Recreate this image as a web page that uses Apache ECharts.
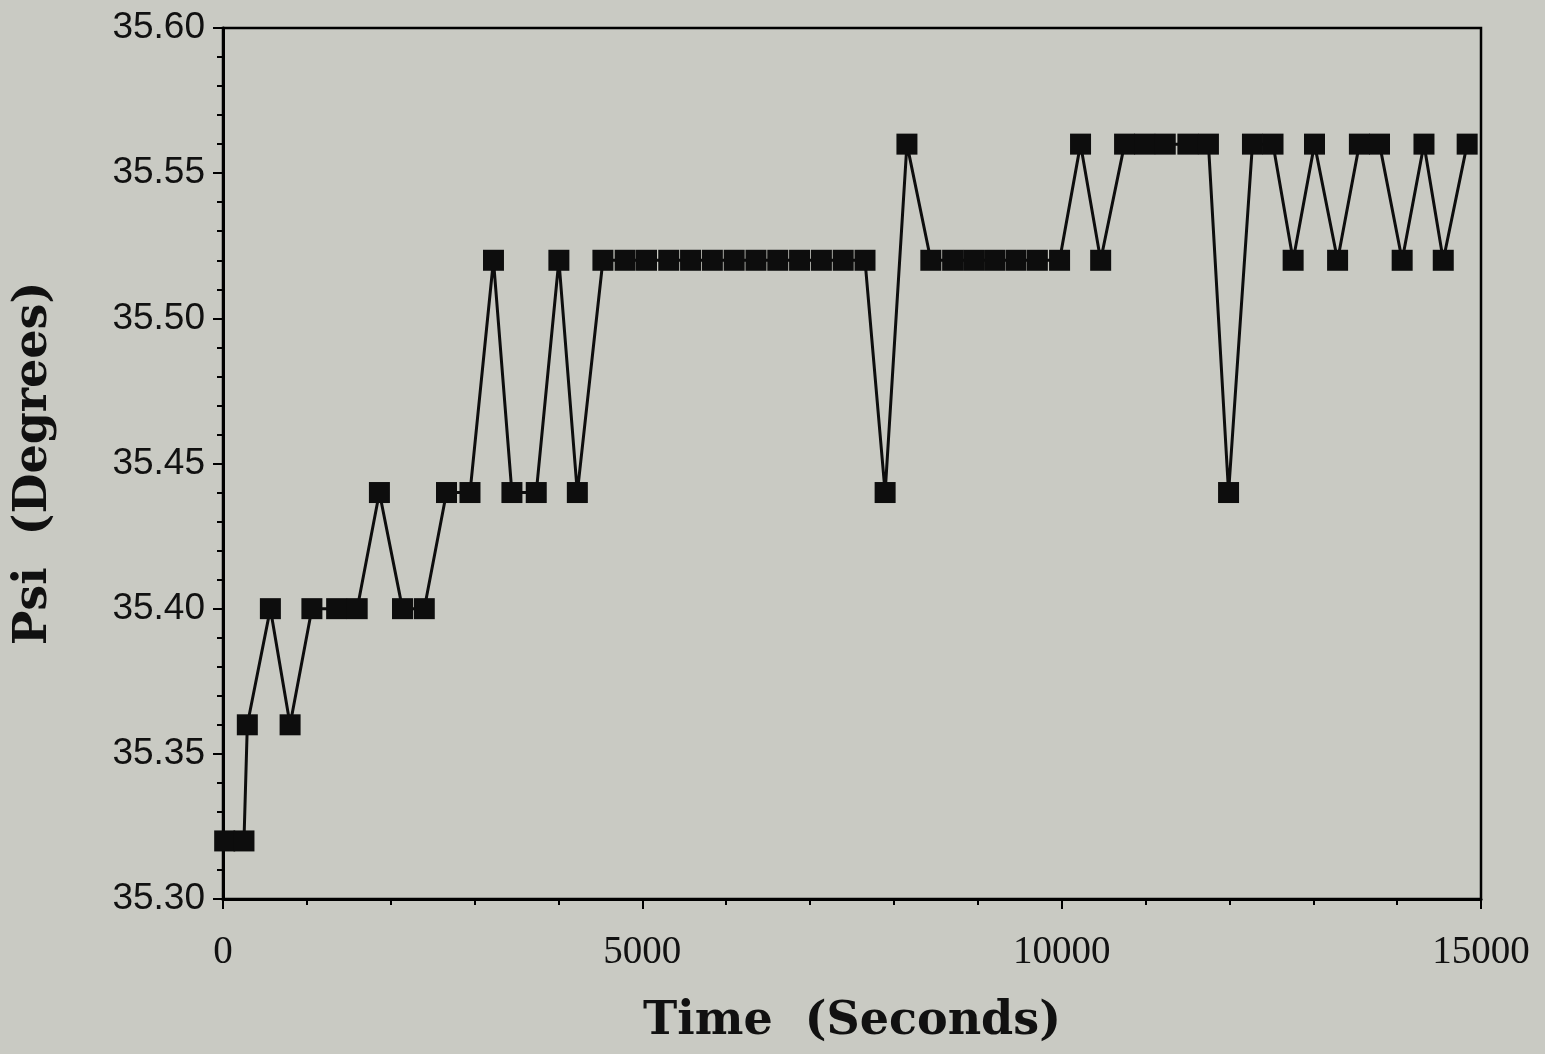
<!DOCTYPE html>
<html>
<head>
<meta charset="utf-8">
<script src="https://cdn.jsdelivr.net/npm/echarts@6/dist/echarts.min.js"></script>
<style>
html,body{margin:0;padding:0;background:#c9cac3;}
#chart{width:1545px;height:1054px;}
</style>
</head>
<body>
<div id="chart"></div>
<script>
// Time (seconds) of each sample
const times = [
  20, 250, 290, 565, 800, 1060, 1355, 1600, 1865, 2140, 2400, 2665, 2945,
  3225, 3445, 3735, 4005, 4225,
  4530, 4795, 5050, 5315, 5575, 5835, 6095, 6355, 6615, 6875, 7135, 7395, 7655,
  7895, 8155,
  8440, 8700, 8950, 9200, 9455, 9710, 9975,
  10225, 10465,
  10750, 10990, 11235, 11505, 11750,
  11990, 12275, 12520, 12760, 13015, 13290, 13550, 13790, 14060, 14320, 14550, 14835
];
// Psi (degrees) of each sample
const psi = [
  35.32, 35.32, 35.36, 35.40, 35.36, 35.40, 35.40, 35.40, 35.44, 35.40, 35.40, 35.44, 35.44,
  35.52, 35.44, 35.44, 35.52, 35.44,
  35.52, 35.52, 35.52, 35.52, 35.52, 35.52, 35.52, 35.52, 35.52, 35.52, 35.52, 35.52, 35.52,
  35.44, 35.56,
  35.52, 35.52, 35.52, 35.52, 35.52, 35.52, 35.52,
  35.56, 35.52,
  35.56, 35.56, 35.56, 35.56, 35.56,
  35.44, 35.56, 35.56, 35.52, 35.56, 35.52, 35.56, 35.56, 35.52, 35.56, 35.52, 35.56
];
const xTicks = [0, 5000, 10000, 15000];
const yTicks = ['35.30', '35.35', '35.40', '35.45', '35.50', '35.55', '35.60'];

const chart = echarts.init(document.getElementById('chart'));
chart.setOption({
  backgroundColor: '#c9cac3',
  animation: false,
  grid: {
    left: 223, right: 64, top: 28, bottom: 155,
    show: true, borderColor: '#000', borderWidth: 2.5, backgroundColor: 'transparent'
  },
  xAxis: {
    type: 'value',
    min: xTicks[0], max: xTicks[xTicks.length - 1], interval: 5000,
    name: 'Time  (Seconds)',
    nameLocation: 'middle',
    nameGap: 100,
    nameTextStyle: { fontFamily: 'DejaVu Serif', fontWeight: 'bold', fontSize: 46, color: '#111' },
    axisLine: { show: true, lineStyle: { color: '#000', width: 3 } },
    axisTick: { show: true, inside: false, length: 10, lineStyle: { color: '#000', width: 2 } },
    minorTick: { show: true, splitNumber: 5, length: 6, lineStyle: { color: '#000', width: 2 } },
    splitLine: { show: false },
    axisLabel: {
      fontFamily: 'Liberation Serif', fontSize: 39, color: '#111', margin: 34,
      formatter: v => String(v)
    }
  },
  yAxis: {
    type: 'value',
    min: 35.30, max: 35.60, interval: 0.05,
    name: 'Psi  (Degrees)',
    nameLocation: 'middle',
    nameGap: 166,
    nameRotate: 90,
    nameTextStyle: { fontFamily: 'DejaVu Serif', fontWeight: 'bold', fontSize: 46, color: '#111' },
    axisLine: { show: true, lineStyle: { color: '#000', width: 3 } },
    axisTick: { show: true, inside: false, length: 10, lineStyle: { color: '#000', width: 2 } },
    minorTick: { show: true, splitNumber: 5, length: 6, lineStyle: { color: '#000', width: 2 } },
    splitLine: { show: false },
    axisLabel: {
      fontFamily: 'Liberation Sans', fontSize: 37, color: '#111', margin: 18,
      formatter: v => v.toFixed(2)
    }
  },
  series: [{
    type: 'line',
    data: times.map((t, i) => [t, psi[i]]),
    symbol: 'rect',
    symbolSize: 21,
    itemStyle: { color: '#0d0d0d' },
    lineStyle: { color: '#0d0d0d', width: 3 },
    clip: false
  }]
});
</script>
</body>
</html>
